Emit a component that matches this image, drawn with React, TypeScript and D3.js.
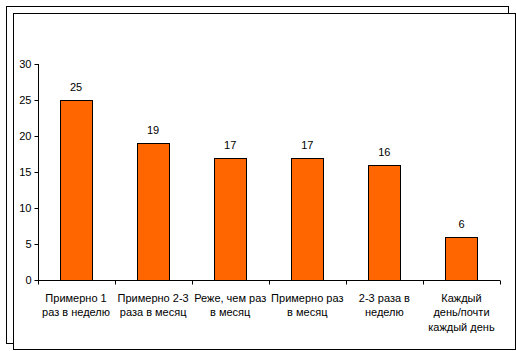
import React, { useEffect, useRef } from 'react';
import * as d3 from 'd3';

const categories = [
  ['Примерно 1', 'раз в неделю'],
  ['Примерно 2-3', 'раза в месяц'],
  ['Реже, чем раз', 'в месяц'],
  ['Примерно раз', 'в месяц'],
  ['2-3 раза в', 'неделю'],
  ['Каждый', 'день/почти', 'каждый день'],
];
const values = [25, 19, 17, 17, 16, 6];
const yTicks = [0, 5, 10, 15, 20, 25, 30];

const W = 516;
const H = 351;
const margin = { left: 37.5, right: 16, top: 64, bottom: 71 };

export default function App() {
  const ref = useRef<SVGSVGElement>(null);

  useEffect(() => {
    const svg = d3.select(ref.current).style('font', '11px Arial, "Liberation Sans", sans-serif');
    svg.selectAll('*').remove();

    // two frames, offset like a shadow
    svg.append('rect').attr('x', 6.5).attr('y', 6.5).attr('width', 502).attr('height', 337)
      .attr('fill', 'none').attr('stroke', 'black');
    svg.append('rect').attr('x', 13.5).attr('y', 13.5).attr('width', 502).attr('height', 336)
      .attr('fill', 'white').attr('stroke', 'black');

    const x = d3.scaleBand<number>()
      .domain(d3.range(categories.length))
      .range([margin.left, W - margin.right]);
    const y = d3.scaleLinear().domain([0, 30]).range([H - margin.bottom, margin.top]);
    const barW = 32;

    const g = svg.append('g');

    // bars
    g.selectAll('.bar')
      .data(values)
      .enter()
      .append('rect')
      .attr('class', 'bar')
      .attr('x', (d, i) => Math.round(x(i)! + x.bandwidth() / 2 - barW / 2) + 0.5)
      .attr('y', d => Math.round(y(d)) + 0.5)
      .attr('width', barW)
      .attr('height', d => Math.round(y(0)) - Math.round(y(d)))
      .attr('fill', '#FF6600')
      .attr('stroke', 'black');

    // value labels
    g.selectAll('.val')
      .data(values)
      .enter()
      .append('text')
      .attr('x', (d, i) => x(i)! + x.bandwidth() / 2)
      .attr('y', d => y(d) - 9)
      .attr('text-anchor', 'middle')
      .attr('fill', 'black')
      .text(d => d);

    // y axis
    const yAxis = d3.axisLeft(y).tickValues(yTicks).tickSize(4).tickPadding(3);
    const ya = g.append('g').attr('transform', `translate(${Math.round(margin.left) + 0.5},0)`).call(yAxis);
    ya.select('.domain').attr('d', `M0,${Math.round(y(30))}V${Math.round(y(0)) + 0.5}`);
    ya.selectAll('text').style('font', '11px Arial, "Liberation Sans", sans-serif').attr('fill', 'black');

    // x axis
    const xa = g.append('g').attr('transform', `translate(0,${Math.round(y(0)) + 0.5})`);
    xa.append('line').attr('x1', margin.left).attr('x2', W - margin.right).attr('stroke', 'black');
    const tickXs = d3.range(categories.length + 1).map(i => Math.round(margin.left + i * x.step()) + 0.5);
    xa.selectAll('.tk').data(tickXs).enter().append('line')
      .attr('x1', d => d).attr('x2', d => d).attr('y1', 0).attr('y2', 4).attr('stroke', 'black');

    const labels = xa.selectAll('.lbl')
      .data(categories)
      .enter()
      .append('text')
      .attr('text-anchor', 'middle')
      .attr('fill', 'black')
      .attr('transform', (d, i) => `translate(${x(i)! + x.bandwidth() / 2},21)`);
    labels.selectAll('tspan')
      .data(d => d)
      .enter()
      .append('tspan')
      .attr('x', 0)
      .attr('dy', (d, i) => (i === 0 ? 0 : 14.5))
      .text(d => d);
  }, []);

  return (
    <svg
      ref={ref}
      width={W}
      height={H}
      style={{ position: 'absolute', left: 0, top: 0, background: 'white' }}
    />
  );
}
